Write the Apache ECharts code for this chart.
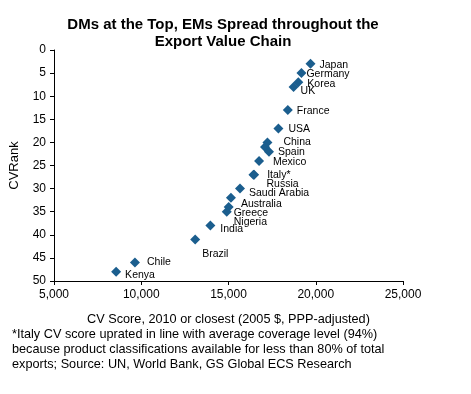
<!DOCTYPE html>
<html>
<head>
<meta charset="utf-8">
<script src="https://cdn.jsdelivr.net/npm/echarts@6/dist/echarts.min.js"></script>
<style>html,body{margin:0;padding:0;background:#fff;}#c{width:471px;height:394px;}</style>
</head>
<body>
<div id="c"></div>
<script>
// Data
var countries = ['Japan','Germany','Korea','UK','France','USA','China','','Spain','Mexico','Italy*','Russia','Saudi Arabia','Australia','Greece','Nigeria','India','Brazil','Chile','Kenya'];
var cvScore   = [19700, 19180, 19000, 18730, 18400, 17860, 17230, 17090, 17320, 16750, 16470, 16430, 15660, 15140, 15010, 14900, 13960, 13090, 9640, 8560];
var cvRank    = [3, 5, 7, 8, 13, 17, 20, 21, 22, 24, 27, 27, 30, 32, 34, 35, 38, 41, 46, 48];
var xTicks = [5000, 10000, 15000, 20000, 25000];
var yTicks = [0, 5, 10, 15, 20, 25, 30, 35, 40, 45, 50];

// label offsets (style only): dx, dy from marker centre to text left/middle
var labelOffsets = [[9,1],[5,1],[9,2],[7,4],[9,1],[10,1],[16,0],[0,0],[9,0],[14,1],[13,0],[13,9],[9,5],[10,6],[5,6],[7,10],[10,4],[7,15],[12,0],[9,3]];

var SYM = 10;
var data = countries.map(function(n, i){
  return {
    name: n,
    value: [cvScore[i], cvRank[i]],
    label: {
      show: n !== '',
      position: [labelOffsets[i][0] + SYM/2, labelOffsets[i][1] + SYM/2],
      align: 'left',
      verticalAlign: 'middle'
    }
  };
});

var chart = echarts.init(document.getElementById('c'), null, {renderer:'canvas'});
var fmt = function(v){ return String(v).replace(/\B(?=(\d{3})+(?!\d))/g, ','); };
var FF = 'Liberation Sans, Arial';
chart.setOption({
  animation: false,
  title: {
    text: 'DMs at the Top, EMs Spread throughout the\nExport Value Chain',
    left: 218, top: 11, textAlign: 'center',
    textStyle: {fontFamily: FF, fontWeight: 'bold', fontSize: 15, lineHeight: 17, color: '#000'}
  },
  grid: {left: 52, top: 50, width: 351, height: 231, containLabel: false},
  xAxis: {
    type: 'value', min: xTicks[0], max: xTicks[xTicks.length-1], interval: 5000,
    name: 'CV Score, 2010 or closest (2005 $, PPP-adjusted)',
    nameLocation: 'middle', nameGap: 32,
    nameTextStyle: {fontFamily: FF, fontSize: 12.7, color: '#000'},
    axisLine: {onZero: false, lineStyle: {color: '#000', width: 1}},
    axisTick: {show: true, inside: false, length: 4, lineStyle: {color: '#000'}},
    axisLabel: {formatter: fmt, fontFamily: FF, fontSize: 12, color: '#000', margin: 8},
    splitLine: {show: false}
  },
  yAxis: {
    type: 'value', inverse: true, min: yTicks[0], max: yTicks[yTicks.length-1], interval: 5,
    name: 'CVRank', nameLocation: 'middle', nameGap: 33, nameRotate: 90,
    nameTextStyle: {fontFamily: FF, fontSize: 13, color: '#000'},
    axisLine: {show: true, onZero: false, lineStyle: {color: '#000', width: 1}},
    axisTick: {show: true, inside: false, length: 4, lineStyle: {color: '#000'}},
    axisLabel: {fontFamily: FF, fontSize: 12, color: '#000', margin: 8},
    splitLine: {show: false}
  },
  series: [{
    type: 'scatter',
    symbol: 'diamond',
    symbolSize: SYM,
    itemStyle: {color: '#1b5e8e', opacity: 1},
    label: {color: '#000', fontFamily: FF, fontSize: 10.5, formatter: '{b}'},
    labelLayout: {hideOverlap: false},
    data: data
  }],
  graphic: [{
    type: 'text', left: 12, top: 327,
    style: {
      text: '*Italy CV score uprated in line with average coverage level (94%)\nbecause product classifications available for less than 80% of total\nexports; Source: UN, World Bank, GS Global ECS Research',
      font: '12.7px "Liberation Sans", Arial', lineHeight: 15, fill: '#000'
    }
  }]
});
</script>
</body>
</html>
